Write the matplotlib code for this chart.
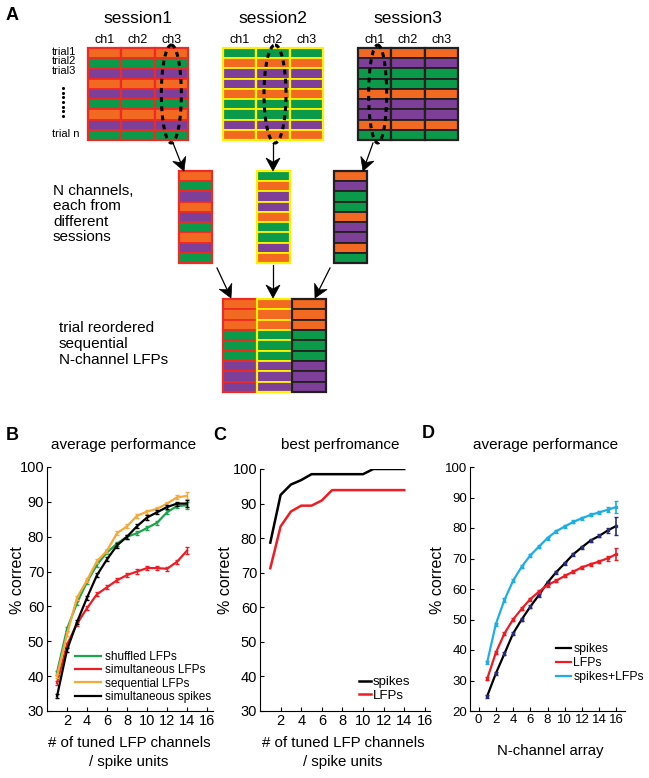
import numpy as np
import matplotlib.pyplot as plt
from matplotlib.patches import Rectangle, Ellipse, Polygon

plt.rcParams['font.family'] = ['Liberation Sans', 'DejaVu Sans']

# ---- panel A: trial class of every row (o=orange, g=green, p=purple)
session_names = ['session1', 'session2', 'session3']
channel_names = ['ch1', 'ch2', 'ch3']
trial_names = ['trial1', 'trial2', 'trial3', 'trial n']
session_rows = [
    ['o', 'g', 'p', 'o', 'p', 'g', 'o', 'p', 'g'],
    ['g', 'o', 'p', 'p', 'o', 'g', 'g', 'p', 'o'],
    ['o', 'p', 'g', 'g', 'o', 'p', 'p', 'o', 'g'],
]
picked_channel = [2, 1, 0]
reordered_rows = ['o', 'o', 'o', 'g', 'g', 'g', 'p', 'p', 'p']

# ---- panel B
units_b = np.arange(1, 15)
shuffled_lfp = [41, 53.5, 61, 67, 72, 75.5, 78, 80, 81, 82.5, 84, 87, 88.8, 89]
simult_lfp = [38, 49, 55, 59.5, 63.5, 65.5, 67.5, 69, 70, 71, 71, 70.8, 72.8, 76]
sequential_lfp = [40, 52, 62.5, 67.5, 73, 76, 81, 83, 86, 87.2, 88, 89.5, 91.3, 91.7]
simult_spikes = [34.2, 47.5, 55.5, 62.5, 69, 73.5, 77.5, 80, 83, 85.5, 87, 88.5, 89.5, 89.5]
err_b = [0.6, 0.6, 0.6, 0.6, 0.6, 0.6, 0.6, 0.6, 0.6, 0.6, 0.6, 0.6, 0.6, 1.0]

# ---- panel C
units_c = np.arange(1, 15)
best_spikes = [78.7, 92.5, 95.5, 96.8, 98.5, 98.5, 98.5, 98.5, 98.5, 98.5, 100, 100, 100, 100]
best_lfp = [71.3, 83.4, 87.7, 89.4, 89.4, 90.9, 93.9, 93.9, 93.9, 93.9, 93.9, 93.9, 93.9, 93.9]

# ---- panel D
n_array = np.arange(1, 17)
d_spikes = [24.9, 32.3, 38.8, 45.4, 50, 54.2, 58, 62.1, 65.5, 68.4, 71.4, 73.7, 75.9, 77.4, 79.2, 80.7]
d_lfp = [30.6, 39.1, 45.4, 50, 53.5, 56.7, 59.1, 61.3, 62.7, 64.3, 65.7, 67.1, 68.1, 69, 70.1, 71.4]
d_both = [36, 48.5, 56.4, 62.7, 67.3, 71, 73.9, 76.7, 78.9, 80.5, 82, 83.2, 84.3, 85.1, 86, 86.9]
err_d_spikes = [0.5] * 14 + [0.8, 3.0]
err_d_lfp = [0.5] * 14 + [0.8, 2.0]
err_d_both = [0.5] * 14 + [0.8, 2.0]

cls_colors = {'o': '#f26a21', 'g': '#0b9a4a', 'p': '#7d3f98'}
borders = ['#ee2a24', '#fff200', '#231f20']

W, H = 649, 778
fig = plt.figure(figsize=(W / 100, H / 100), dpi=100)


def fx(x):
    return x / W


def fy(y):
    return 1 - y / H


ax_a = fig.add_axes([0, 0, 1, 1])
ax_a.set_xlim(0, W)
ax_a.set_ylim(H, 0)
ax_a.axis('off')


def grid(x0, y0, y1, widths, rows_per_col, edge):
    rh = (y1 - y0) / len(rows_per_col[0])
    x = x0
    for w, rows, ec in zip(widths, rows_per_col, edge):
        for r, c in enumerate(rows):
            ax_a.add_patch(Rectangle((x, y0 + r * rh), w, rh, fc=cls_colors[c], ec=ec, lw=1.3))
        ax_a.add_patch(Rectangle((x, y0), w, y1 - y0, fill=False, ec=ec, lw=1.6))
        x += w


def arrow(x0, y0, x1, y1):
    d = np.array([x1 - x0, y1 - y0], float)
    d /= np.linalg.norm(d)
    n = np.array([-d[1], d[0]])
    tip = np.array([x1, y1], float)
    back = tip - 13 * d
    notch = tip - 9 * d
    ax_a.plot([x0, notch[0]], [y0, notch[1]], color='k', lw=0.9)
    ax_a.add_patch(Polygon([tip, back + 7 * n, notch, back - 7 * n], closed=True, fc='k', ec='k', lw=0.5))


grid_x = [88, 223, 358]
for s in range(3):
    grid(grid_x[s], 48, 140, [100 / 3] * 3, [session_rows[s]] * 3, [borders[s]] * 3)
    ax_a.text(grid_x[s] + 50, 18, session_names[s], fontsize=12.5, ha='center', va='center')
    for ch in range(3):
        ax_a.text(grid_x[s] + (ch + 0.5) * 100 / 3, 40, channel_names[ch], fontsize=9, ha='center', va='center')
    cx = grid_x[s] + (picked_channel[s] + 0.5) * 100 / 3 + [0, 2, 3][s]
    ax_a.add_patch(Ellipse((cx, 94), [20, 22, 18][s], 98, fill=False, ec='k', lw=2.2, ls=(0, (1.6, 1.4))))

for name, ty in zip(trial_names, [52, 61, 71, 134]):
    ax_a.text(52, ty, name, fontsize=8, ha='left', va='center')
ax_a.scatter([63] * 7, np.linspace(88, 116, 7), s=1.5, color='k')

# middle columns
col_x = [179, 257, 334]
for s in range(3):
    grid(col_x[s], 171, 263, [33], [session_rows[s]], [borders[s]])
for (x0, y0, x1, y1) in [(173, 143, 184, 171), (273, 143, 273, 171), (373, 143, 363, 171)]:
    arrow(x0, y0, x1, y1)

# bottom block
grid(223, 299, 392, [103 / 3] * 3, [reordered_rows] * 3, borders)
for (x0, y0, x1, y1) in [(217, 268, 231, 298), (273, 265, 273, 298), (330, 268, 315, 298)]:
    arrow(x0, y0, x1, y1)

ax_a.text(53, 214, 'N channels,\neach from\ndifferent\nsessions', fontsize=11, ha='left', va='center', linespacing=1.15)
ax_a.text(59, 344, 'trial reordered\nsequential\nN-channel LFPs', fontsize=11, ha='left', va='center', linespacing=1.15)

for lab, x, y in [('A', 12, 15), ('B', 12, 435), ('C', 220, 435), ('D', 428, 433)]:
    ax_a.text(x, y, lab, fontsize=13, fontweight='bold', ha='center', va='center')
for t, x in [('average performance', 124), ('best perfromance', 340), ('average performance', 546)]:
    ax_a.text(x, 445, t, fontsize=11, ha='center', va='center')


def style(ax, fs):
    for sp in ['top', 'right']:
        ax.spines[sp].set_visible(False)
    for sp in ['left', 'bottom']:
        ax.spines[sp].set_linewidth(0.8)
    ax.tick_params(direction='in', length=3, width=0.8, labelsize=fs, pad=2)
    ax.set_facecolor('none')


# ---- B
axb = fig.add_axes([fx(47), fy(711), fx(213) - fx(47), fy(467) - fy(711)])
series_b = [(shuffled_lfp, '#1aa64a', 'shuffled LFPs'),
            (simult_lfp, '#ee1c24', 'simultaneous LFPs'),
            (sequential_lfp, '#f6a93b', 'sequential LFPs'),
            (simult_spikes, 'k', 'simultaneous spikes')]
for vals, col, lab in series_b:
    axb.plot(units_b, vals, color=col, lw=1.6, label=lab)
    axb.errorbar(units_b, vals, yerr=err_b, fmt='none', ecolor=col, elinewidth=1, capsize=1.5)
axb.set_xlim(0, 16.6)
axb.set_ylim(30, 100)
axb.set_xticks(range(2, 17, 2))
axb.set_yticks(range(30, 101, 10))
style(axb, 10.5)
axb.legend(loc='lower left', bbox_to_anchor=(0.12, 0.0), frameon=False, fontsize=8.5,
           handlelength=2.2, handletextpad=0.3, labelspacing=0.1, borderpad=0.2)

# ---- C
axc = fig.add_axes([fx(260), fy(711), fx(430) - fx(260), fy(469) - fy(711)])
axc.plot(units_c, best_spikes, color='k', lw=1.8, label='spikes')
axc.plot(units_c, best_lfp, color='#ee1c24', lw=1.8, label='LFPs')
axc.set_xlim(0, 16.5)
axc.set_ylim(30, 100)
axc.set_xticks(range(2, 17, 2))
axc.set_yticks(range(30, 101, 10))
style(axc, 10.5)
axc.legend(loc='lower left', bbox_to_anchor=(0.53, 0.0), frameon=False, fontsize=9.5,
           handlelength=0.9, handletextpad=0.1, labelspacing=0.1, borderpad=0.2)

# ---- D
axd = fig.add_axes([fx(470), fy(711), fx(625) - fx(470), fy(467) - fy(711)])
series_d = [(d_spikes, err_d_spikes, 'k', '#2a2a7a', 'spikes'),
            (d_lfp, err_d_lfp, '#ed1c24', '#ed1c24', 'LFPs'),
            (d_both, err_d_both, '#1eaee6', '#1eaee6', 'spikes+LFPs')]
for vals, err, col, ecol, lab in series_d:
    axd.plot(n_array, vals, color=col, lw=1.6, label=lab)
    axd.errorbar(n_array, vals, yerr=err, fmt='s', ms=1.5, color=ecol, ecolor=ecol, elinewidth=1.2, capsize=1.5)
axd.set_xlim(-1, 17)
axd.set_ylim(20, 100)
axd.set_xticks(range(0, 17, 2))
axd.set_yticks(range(20, 101, 10))
style(axd, 9.5)
axd.legend(loc='lower left', bbox_to_anchor=(0.5, 0.08), frameon=False, fontsize=8.8,
           handlelength=1.2, handletextpad=0.2, labelspacing=0.15, borderpad=0.2)

# axis labels
for x in [17, 226, 437]:
    fig.text(fx(x), fy(580), '% correct', rotation=90, fontsize=11.5, ha='center', va='center')
for x in [129, 343]:
    fig.text(fx(x), fy(743), '# of tuned LFP channels', fontsize=10.8, ha='center', va='center')
    fig.text(fx(x), fy(762), '/ spike units', fontsize=10.8, ha='center', va='center')
fig.text(fx(550), fy(751), 'N-channel array', fontsize=10.8, ha='center', va='center')

fig.savefig('out.png', dpi=100)
